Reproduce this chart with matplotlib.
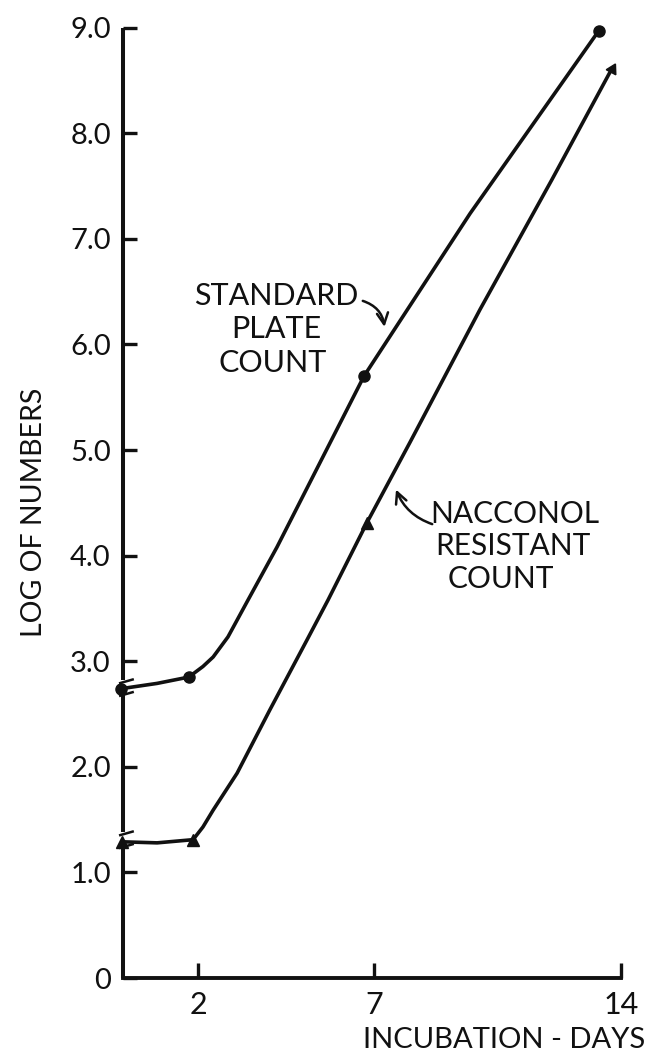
import matplotlib
matplotlib.use("Agg")
import matplotlib.pyplot as plt

plt.rcParams["font.family"] = ["Lato", "DejaVu Sans"]

# Measured counts (incubation day, log of numbers)
spc_days = [-0.18, 1.74, 6.71, 13.37]
spc_log = [2.74, 2.85, 5.70, 8.97]
nrc_days = [-0.16, 1.86, 6.79, 13.74]
nrc_log = [1.29, 1.31, 4.31, 8.61]

# Hand-drawn growth curves through the measured counts
spc_curve_days = [-0.18, 0.84, 1.74, 2.14, 2.43, 2.85, 3.42, 4.24, 5.46, 6.71,
                  9.72, 13.37]
spc_curve_log = [2.74, 2.79, 2.85, 2.95, 3.04, 3.23, 3.58, 4.08, 4.88, 5.70,
                 7.24, 8.97]
nrc_curve_days = [-0.16, 0.84, 1.86, 2.14, 2.43, 3.11, 4.04, 5.09, 5.69, 6.79,
                  8.01, 10.0, 12.04, 13.74]
nrc_curve_log = [1.29, 1.28, 1.31, 1.43, 1.59, 1.94, 2.54, 3.20, 3.58, 4.31,
                 5.07, 6.33, 7.56, 8.61]

x_ticks = [2, 7, 14]
x_tick_labels = ["2", "7", "14"]
y_ticks = [0, 1, 2, 3, 4, 5, 6, 7, 8, 9]
y_tick_labels = ["0", "1.0", "2.0", "3.0", "4.0", "5.0", "6.0", "7.0", "8.0", "9.0"]

# y-axis breaks (gaps in the axis line)
y_breaks = [(1.26, 1.38), (2.70, 2.82)]

fig = plt.figure(figsize=(6.47, 10.55), dpi=100)
ax = fig.add_axes([100 / 647, (1055 - 983.3) / 1055, 540 / 647, 976.8 / 1055])
ax.set_xlim(-0.78, 14.54)
ax.set_ylim(-0.05, 9.2)

axis_x = -0.12
ink = "#111111"

for s in ("top", "right"):
    ax.spines[s].set_visible(False)
ax.spines["left"].set_position(("data", axis_x))
ax.spines["left"].set_visible(False)
ax.spines["bottom"].set_position(("data", 0))
ax.spines["bottom"].set_bounds(axis_x, 14)
ax.spines["bottom"].set_linewidth(2.8)
ax.spines["bottom"].set_color(ink)

# broken vertical axis
seg_edges = [0] + [v for b in y_breaks for v in b] + [9.0]
for lo, hi in zip(seg_edges[0::2], seg_edges[1::2]):
    ax.plot([axis_x, axis_x], [lo, hi], color=ink, lw=2.9, solid_capstyle="butt")
for b in y_breaks:
    for v in b:
        ax.plot([axis_x - 0.12, axis_x + 0.30], [v - 0.03, v + 0.01],
                color=ink, lw=1.8, solid_capstyle="butt")

ax.set_xticks(x_ticks)
ax.set_xticklabels(x_tick_labels)
ax.set_yticks(y_ticks)
ax.set_yticklabels(y_tick_labels)
ax.tick_params(axis="x", direction="in", length=11, width=2.4, pad=9,
               labelsize=22, colors=ink)
ax.tick_params(axis="y", direction="in", length=10, width=2.4, pad=9,
               labelsize=21, colors=ink)

# curves and markers
ax.plot(spc_curve_days, spc_curve_log, color=ink, lw=2.6,
        solid_joinstyle="round", solid_capstyle="round")
ax.plot(nrc_curve_days, nrc_curve_log, color=ink, lw=2.6,
        solid_joinstyle="round", solid_capstyle="round")
ax.plot(spc_days, spc_log, "o", color=ink, ms=8, ls="none")
ax.plot(nrc_days[:-1], nrc_log[:-1], "^", color=ink, ms=9, ls="none")
# last triangle sits at the curve's end, pointing along it
ax.plot(nrc_days[-1:], nrc_log[-1:], marker=(3, 0, -28), color=ink, ms=9, ls="none")

# curve labels
for txt, x, y in [("STANDARD", 4.21, 6.37), ("PLATE", 4.21, 6.06), ("COUNT", 4.11, 5.74)]:
    ax.text(x, y, txt, ha="center", va="baseline", fontsize=22, color=ink)
for txt, x, y in [("NACCONOL", 11.0, 4.31), ("RESISTANT", 10.93, 4.01), ("COUNT", 10.6, 3.69)]:
    ax.text(x, y, txt, ha="center", va="baseline", fontsize=21.5, color=ink)

ax.annotate("", xy=(7.3, 6.14), xytext=(6.6, 6.42),
            arrowprops=dict(arrowstyle="->", lw=1.8, color=ink,
                            connectionstyle="arc3,rad=-0.35", mutation_scale=20))
ax.annotate("", xy=(7.59, 4.65), xytext=(8.72, 4.29),
            arrowprops=dict(arrowstyle="->", lw=1.8, color=ink,
                            connectionstyle="arc3,rad=-0.25", mutation_scale=20))

ax.set_ylabel("LOG OF NUMBERS", fontsize=20.5, color=ink, va="center")
ax.yaxis.set_label_coords(-0.123, 0.4825)
ax.set_xlabel("INCUBATION - DAYS", fontsize=21, color=ink, ha="right", va="center")
ax.xaxis.set_label_coords(1.009, -0.058)

fig.savefig("out.png", dpi=100)
